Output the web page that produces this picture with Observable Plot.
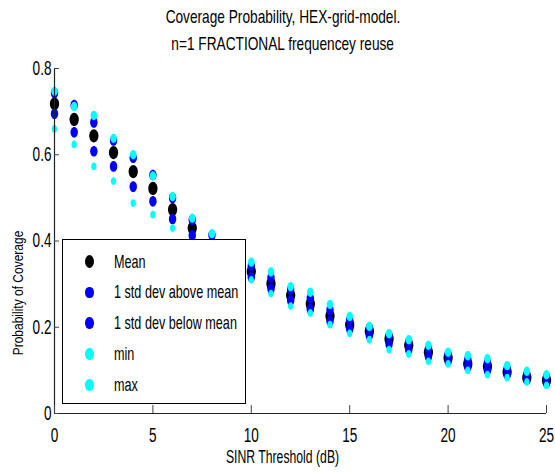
<!DOCTYPE html>
<html>
<head>
<meta charset="utf-8">
<script src="https://cdn.jsdelivr.net/npm/d3@7"></script>
<script src="https://cdn.jsdelivr.net/npm/@observablehq/plot@0.6"></script>
<style>
  html, body { margin: 0; padding: 0; background: #fff; }
  #wrap { position: relative; width: 555px; height: 475px; background: #fff; overflow: hidden;
          font-family: "Liberation Sans", Arial, sans-serif; color: #000; }
  .tline { position: absolute; left: 0; width: 566px; text-align: center; font-size: 19px; line-height: 20px; white-space: nowrap; }
  .tline span { display: inline-block; transform: scaleX(0.72); }
  #chart { position: absolute; left: 0; top: 60px; }
  #legend { position: absolute; left: 62px; top: 239px; width: 184px; height: 165px; box-sizing: border-box;
            border: 1.5px solid #000; background: #fff; }
  .lmark { position: absolute; border-radius: 50%; }
  .ltext { position: absolute; font-size: 19px; line-height: 20px; white-space: nowrap; transform: scaleX(0.665); transform-origin: left center; }
</style>
</head>
<body>
<div id="wrap">
  <div class="tline" style="top:7px"><span id="t1"></span></div>
  <div class="tline" style="top:34px"><span id="t2"></span></div>
  <div id="chart"></div>
  <div id="legend"></div>
</div>
<script>
// ---- data ----
const titleLines = ["Coverage Probability, HEX-grid-model.", "n=1 FRACTIONAL frequencey reuse"];
const xLabel = "SINR Threshold (dB)";
const yLabel = "Probability of Coverage";
const xTicks = [0, 5, 10, 15, 20, 25];
const xTickLabels = ["0", "5", "10", "15", "20", "25"];
const yTicks = [0, 0.2, 0.4, 0.6, 0.8];
const yTickLabels = ["0", "0.2", "0.4", "0.6", "0.8"];
const seriesNames = ["Mean", "1 std dev above mean", "1 std dev below mean", "min", "max"];

const sinr = [0, 1, 2, 3, 4, 5, 6, 7, 8, 9, 10, 11, 12, 13, 14, 15, 16, 17, 18, 19, 20, 21, 22, 23, 24, 25];
const meanVals  = [0.718, 0.682, 0.644, 0.605, 0.561, 0.522, 0.473, 0.430, 0.390, 0.356, 0.329, 0.301, 0.274, 0.254, 0.226, 0.206, 0.191, 0.173, 0.158, 0.142, 0.129, 0.115, 0.109, 0.096, 0.083, 0.077];
const aboveVals = [0.743, 0.715, 0.675, 0.633, 0.593, 0.553, 0.500, 0.449, 0.414, 0.376, 0.342, 0.315, 0.287, 0.267, 0.240, 0.216, 0.199, 0.181, 0.166, 0.150, 0.137, 0.125, 0.118, 0.104, 0.091, 0.084];
const belowVals = [0.695, 0.652, 0.608, 0.573, 0.526, 0.492, 0.451, 0.413, 0.375, 0.340, 0.316, 0.289, 0.262, 0.242, 0.214, 0.196, 0.181, 0.161, 0.148, 0.132, 0.122, 0.108, 0.100, 0.090, 0.078, 0.071];
const minVals   = [0.660, 0.624, 0.573, 0.539, 0.488, 0.461, 0.430, 0.395, 0.360, 0.325, 0.310, 0.278, 0.249, 0.233, 0.206, 0.186, 0.171, 0.148, 0.138, 0.121, 0.115, 0.100, 0.090, 0.083, 0.073, 0.065];
const maxVals   = [0.747, 0.712, 0.691, 0.638, 0.600, 0.551, 0.503, 0.453, 0.417, 0.382, 0.351, 0.328, 0.294, 0.281, 0.253, 0.225, 0.202, 0.185, 0.171, 0.158, 0.142, 0.134, 0.127, 0.111, 0.098, 0.090];

// ---- styles (kept apart from data) ----
const seriesValues = [meanVals, aboveVals, belowVals, minVals, maxVals];
const seriesColors = ["#000000", "#0000ff", "#0000ff", "#00ffff", "#00ffff"];
const seriesRadius = [6.6, 5.3, 5.3, 3.9, 4.7];
const legendRadius = [6.5, 5.8, 5.8, 6.0, 6.0];
const squeeze = 0.68; // horizontal compression of the figure

function ellipseSymbol(k) {
  return {
    draw(ctx, size) {
      const r = Math.sqrt(size / Math.PI), rx = r * k, ry = r, c = 0.5523;
      ctx.moveTo(rx, 0);
      ctx.bezierCurveTo(rx, ry * c, rx * c, ry, 0, ry);
      ctx.bezierCurveTo(-rx * c, ry, -rx, ry * c, -rx, 0);
      ctx.bezierCurveTo(-rx, -ry * c, -rx * c, -ry, 0, -ry);
      ctx.bezierCurveTo(rx * c, -ry, rx, -ry * c, rx, 0);
      ctx.closePath();
    }
  };
}
const ell = ellipseSymbol(0.7);

const W = 555, H = 415, mT = 8, mB = 62, mL = 54, mR = 9;
const plotW = W - mL - mR, plotH = H - mT - mB;

const dotMarks = seriesNames.map((name, s) =>
  Plot.dot(sinr.map((x, i) => ({x, y: seriesValues[s][i]})), {
    x: "x", y: "y", r: seriesRadius[s], fill: seriesColors[s], stroke: null, symbol: ell
  })
);

const chart = Plot.plot({
  width: W, height: H,
  marginTop: mT, marginBottom: mB, marginLeft: mL, marginRight: mR,
  x: {domain: [0, 25]},
  y: {domain: [0, 0.8]},
  style: {fontFamily: '"Liberation Sans", Arial, sans-serif', fontSize: "20px", color: "#000", background: "#fff", overflow: "visible"},
  marks: [
    ...dotMarks,
    Plot.ruleY([0], {stroke: "#222", strokeWidth: 1.2}),
    Plot.ruleX([0], {stroke: "#222", strokeWidth: 1.2}),
    Plot.tickX(xTicks, {x: d => d, insetTop: plotH - 8, stroke: "#444"}),
    Plot.tickY(yTicks, {y: d => d, insetRight: plotW - 5, stroke: "#444"}),
    Plot.axisX(xTicks, {tickSize: 0, tickPadding: 14, label: null, tickFormat: d => xTickLabels[xTicks.indexOf(d)]}),
    Plot.axisY(yTicks, {tickSize: 0, tickPadding: 3, label: null, tickFormat: d => yTickLabels[yTicks.indexOf(d)]}),
    Plot.text([xLabel], {text: d => d, frameAnchor: "bottom", textAnchor: "middle", dx: -18, dy: 49, fontSize: 18}),
    Plot.text([yLabel], {text: d => d, frameAnchor: "left", textAnchor: "middle", rotate: -90, dx: -36, dy: 52, fontSize: 15})
  ]
});
document.getElementById("chart").appendChild(chart);

// squeeze all svg text horizontally around its anchor
chart.querySelectorAll("text").forEach(t => {
  let tr = t.getAttribute("transform") || "";
  const x = +t.getAttribute("x") || 0, y = +t.getAttribute("y") || 0;
  if (x || y) { tr = `translate(${x},${y}) ` + tr; t.removeAttribute("x"); t.removeAttribute("y"); }
  const rotated = /rotate/.test(tr);
  // rotated text: shorten along the text, keep its thickness across it
  t.setAttribute("transform", tr + (rotated ? ` scale(0.8,0.97)` : ` scale(${squeeze},1)`));
});

document.getElementById("t1").textContent = titleLines[0];
document.getElementById("t2").textContent = titleLines[1];

// legend
const legend = document.getElementById("legend");
const bx = 62 + 1.5, by = 239 + 1.5;
seriesNames.forEach((name, i) => {
  const cy = 262 + i * 30.8;
  const ry = legendRadius[i], rx = ry * 0.7;
  const m = document.createElement("div");
  m.className = "lmark";
  m.style.left = (90 - rx - bx) + "px";
  m.style.top = (cy - ry - by) + "px";
  m.style.width = (2 * rx) + "px";
  m.style.height = (2 * ry) + "px";
  m.style.background = seriesColors[i];
  legend.appendChild(m);
  const t = document.createElement("div");
  t.className = "ltext";
  t.style.left = (114 - bx) + "px";
  t.style.top = (cy - 10 - by) + "px";
  t.textContent = name;
  legend.appendChild(t);
});
</script>
</body>
</html>
